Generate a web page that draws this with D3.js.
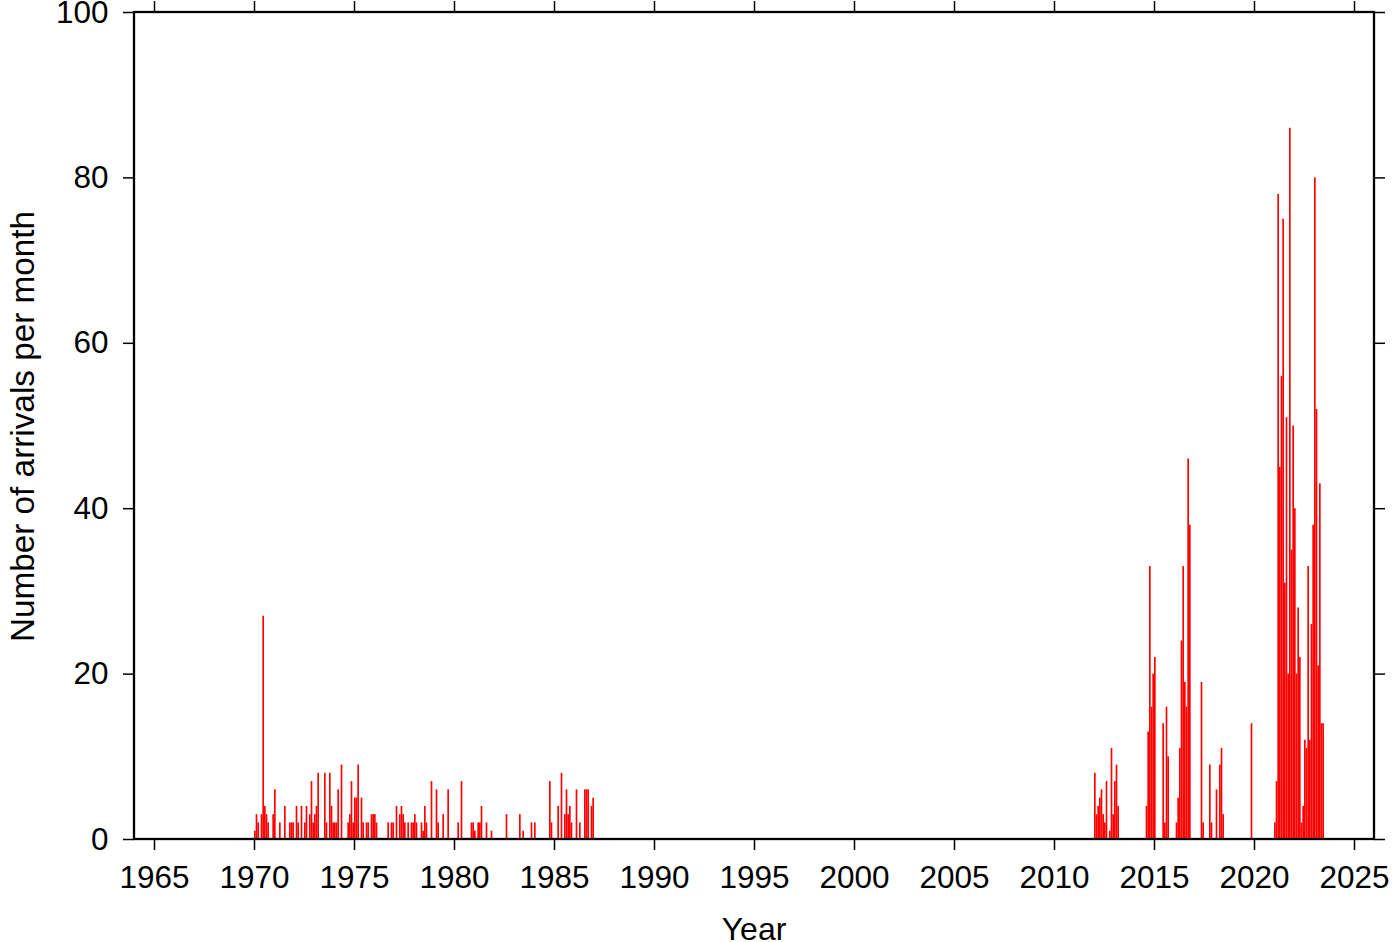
<!DOCTYPE html>
<html><head><meta charset="utf-8">
<script src="https://cdn.jsdelivr.net/npm/d3@7"></script>
<style>html,body{margin:0;padding:0;background:#fff}svg{display:block}</style>
</head><body>
<script>
// Monthly arrival counts (year-month, count)
const monthsEarly = ["1970-01","1970-02","1970-03","1970-05","1970-06","1970-07","1970-08","1970-09","1970-12",
 "1971-01","1971-04","1971-07","1971-10","1971-11","1971-12","1972-02","1972-03","1972-05","1972-07","1972-08",
 "1972-10","1972-11","1972-12","1973-01","1973-02","1973-03","1973-07","1973-08","1973-10","1973-11","1973-12",
 "1974-01","1974-02","1974-03","1974-05","1974-09","1974-10","1974-11","1974-12","1975-01","1975-02","1975-03",
 "1975-05","1975-06","1975-08","1975-09","1975-11","1975-12","1976-01","1976-02","1976-09","1976-11","1976-12",
 "1977-02","1977-04","1977-05","1977-06","1977-07","1977-09","1977-11","1977-12","1978-01","1978-02","1978-05",
 "1978-06","1978-07","1978-08","1978-11","1979-02","1979-03","1979-06","1979-09","1980-03","1980-05","1980-11",
 "1980-12","1981-01","1981-03","1981-04","1981-05","1981-08","1981-11","1982-08","1983-04","1983-06","1983-11",
 "1984-01","1984-10","1984-11","1985-03","1985-05","1985-07","1985-08","1985-09","1985-10","1985-11","1986-02",
 "1986-04","1986-07","1986-08","1986-09","1986-11","1986-12"];
const countsEarly = [1,3,2,3,27,4,3,2,3,
 6,2,4,2,2,2,4,2,4,2,4,
 3,7,2,3,4,8,8,2,8,4,2,
 2,2,6,9,2,3,7,2,5,5,9,
 5,2,2,2,3,3,3,2,2,2,2,
 4,3,4,3,2,2,2,2,3,2,2,
 1,4,2,7,6,2,3,6,2,7,2,
 2,1,2,2,4,2,1,3,3,1,2,
 2,7,2,4,8,3,6,3,4,2,6,
 2,6,6,6,4,5];
const monthsMid = ["2012-01","2012-02","2012-03","2012-04","2012-05","2012-06","2012-07","2012-08","2012-10",
 "2012-11","2012-12","2013-01","2013-02","2013-03","2014-08","2014-09","2014-10","2014-11","2014-12","2015-01",
 "2015-06","2015-07","2015-08","2015-09","2016-02","2016-03","2016-04","2016-05","2016-06","2016-07","2016-08",
 "2016-09","2016-10","2017-05","2017-06","2017-10","2017-11","2018-02","2018-04","2018-05","2018-06","2019-11"];
const countsMid = [8,3,4,5,6,3,2,7,1,
 11,3,7,9,4,4,13,33,16,20,22,
 14,2,16,10,2,5,11,24,33,19,16,
 46,38,19,2,9,2,6,9,11,3,14];
const monthsRecent = ["2021-01","2021-02","2021-03","2021-04","2021-05","2021-06","2021-07","2021-08","2021-09",
 "2021-10","2021-11","2021-12","2022-01","2022-02","2022-03","2022-04","2022-05","2022-06","2022-07","2022-08",
 "2022-09","2022-10","2022-11","2022-12","2023-01","2023-02","2023-03","2023-04","2023-05","2023-06"];
const countsRecent = [2,7,78,45,56,75,31,51,20,
 86,35,50,40,20,28,22,2,4,12,11,
 33,12,26,38,80,52,21,43,14,14];

const xTickValues = [1965,1970,1975,1980,1985,1990,1995,2000,2005,2010,2015,2020,2025];
const yTickValues = [0,20,40,60,80,100];
const xDomain = [1964, 2026];
const yDomain = [0, 100];
const xTitle = "Year";
const yTitle = "Number of arrivals per month";

const W = 1400, H = 942;
const L = 134, R = 1374, T = 12, B = 839;
const FONT = "'Liberation Sans', Arial, Helvetica, sans-serif";
const FS = 31.5;

const bars = [];
[[monthsEarly,countsEarly],[monthsMid,countsMid],[monthsRecent,countsRecent]].forEach(([ms,cs]) => {
  ms.forEach((m,i) => {
    const [y, mo] = m.split("-").map(Number);
    bars.push({t: y + (mo-1)/12, v: cs[i]});
  });
});

const svg = d3.select("body").append("svg").attr("width", W).attr("height", H);
const x = d3.scaleLinear().domain(xDomain).range([L, R]);
const y = d3.scaleLinear().domain(yDomain).range([B, T]);

svg.append("g").selectAll("rect").data(bars).join("rect")
  .attr("x", d => x(d.t))
  .attr("width", d => x(d.t + 1/12) - x(d.t))
  .attr("y", d => y(d.v))
  .attr("height", d => y(0) - y(d.v))
  .attr("fill", "#ff0000");

function styleAxis(g, labels) {
  g.select(".domain").remove();
  g.selectAll(".tick line").attr("stroke", "#000").attr("stroke-width", 1.5);
  g.selectAll(".tick text").attr("fill", labels ? "#000" : "none")
    .style("font-family", FONT).style("font-size", FS + "px");
}

const gB = svg.append("g").attr("transform", `translate(0,${B})`)
  .call(d3.axisBottom(x).tickValues(xTickValues).tickFormat(d3.format("d")).tickSize(11).tickPadding(15.5));
styleAxis(gB, true);
const gT = svg.append("g").attr("transform", `translate(0,${T})`)
  .call(d3.axisTop(x).tickValues(xTickValues).tickFormat("").tickSize(11));
styleAxis(gT, false);
const gL = svg.append("g").attr("transform", `translate(${L},0)`)
  .call(d3.axisLeft(y).tickValues(yTickValues).tickFormat(d3.format("d")).tickSize(11).tickPadding(14.5));
styleAxis(gL, true);
const gR = svg.append("g").attr("transform", `translate(${R},0)`)
  .call(d3.axisRight(y).tickValues(yTickValues).tickFormat("").tickSize(11));
styleAxis(gR, false);

svg.append("rect").attr("x", L).attr("y", T).attr("width", R - L).attr("height", B - T)
  .attr("fill", "none").attr("stroke", "#000").attr("stroke-width", 2.3);

svg.append("text").attr("x", (L + R) / 2).attr("y", 940)
  .attr("text-anchor", "middle").style("font-family", FONT).style("font-size", "32px")
  .text(xTitle);
svg.append("text").attr("transform", `translate(33.5,${(T + B) / 2 + 1}) rotate(-90)`)
  .attr("text-anchor", "middle").style("font-family", FONT).style("font-size", "33.3px")
  .text(yTitle);
</script>
</body></html>
